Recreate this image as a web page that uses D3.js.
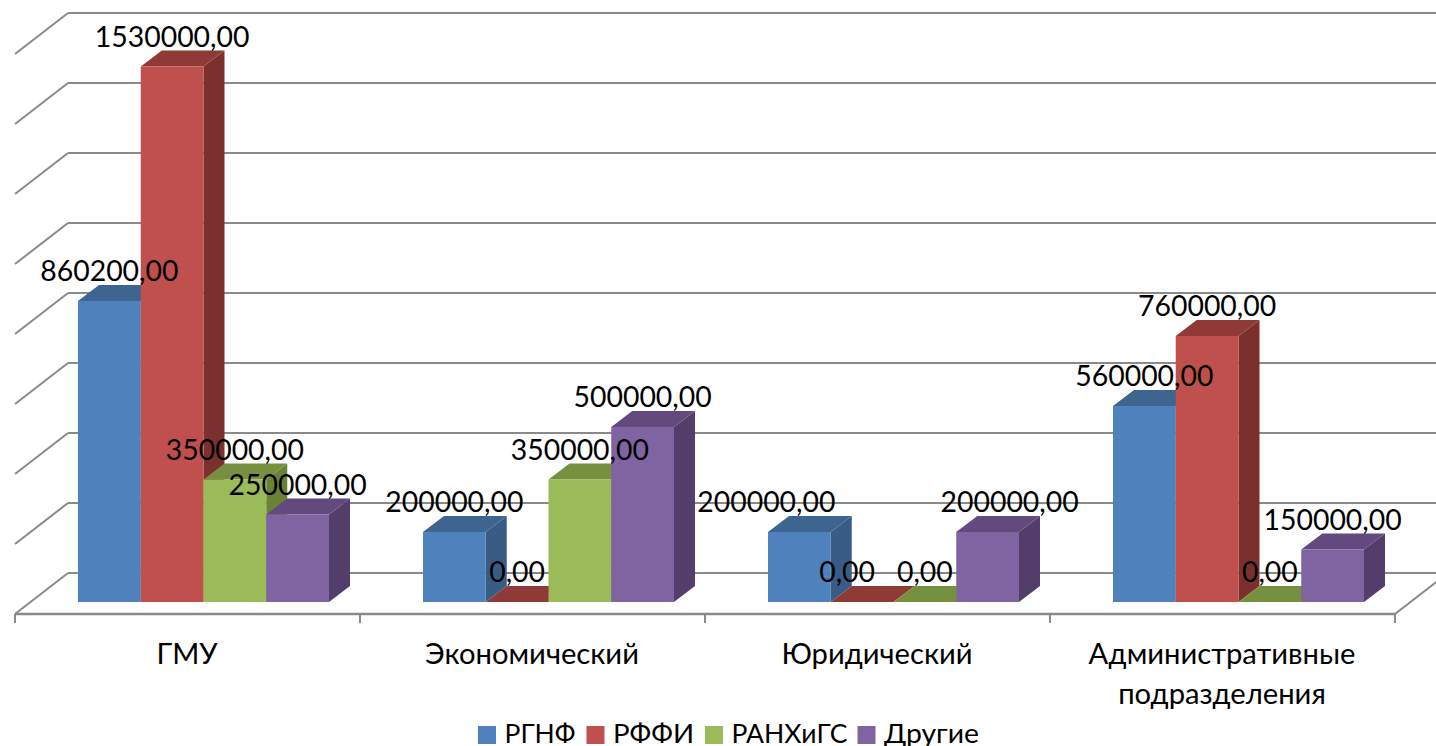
<!DOCTYPE html>
<html><head><meta charset="utf-8">
<script src="https://cdn.jsdelivr.net/npm/d3@7/dist/d3.min.js"></script>
<style>html,body{margin:0;padding:0;background:#fff;overflow:hidden}
svg{display:block}text{font-family:"Lato","Noto Sans",sans-serif;fill:#000}</style>
</head><body><svg id="c" width="1436" height="746"></svg>
<script>
const categories = ["ГМУ","Экономический","Юридический","Административные\nподразделения"];
const seriesNames = ["РГНФ","РФФИ","РАНХиГС","Другие"];
const rgnf  = [860200,200000,200000,560000];
const rffi  = [1530000,0,0,760000];
const ranh  = [350000,350000,0,0];
const other = [250000,500000,200000,150000];
const seriesValues = [rgnf,rffi,ranh,other];
const gridTicks = [0,200000,400000,600000,800000,1000000,1200000,1400000,1600000];
const frontColors = ["#4F81BD","#C0504D","#9BBB59","#8064A2"];
const topColors   = ["#3E6490","#8F3A37","#76903F","#624A7E"];
const sideColors  = ["#385C86","#7B302E","#6A8136","#533E6B"];
const legendX = [478,586.5,705,857.5];
const legendTextW = [71,81,116,95];
// horizontal nudges of the data labels that the original moved off their bars: [category][series]
const labelNudge = [[0,0,0,0],[0,0,0,0],[-33,-15,0,22],[0,0,0,0]];

const svg = d3.select("#c");
const gridColor = "#8a8a8a";
const x = d3.scaleBand().domain(categories).range([15,1395]);
const y = d3.scaleLinear().domain([0,1600000]).range([602,42]);
const inner = d3.scaleBand().domain(d3.range(4)).range([63,314]);
const barDx = 21, barDy = 16;      // bar depth
const wallDx = 53, wallDy = 41;    // side-wall depth
const floorFront = 614, gridShift = -29;

const gy = v => y(v) + gridShift;
svg.append("g").selectAll("line").data(gridTicks).join("line")
  .attr("x1",15+wallDx).attr("x2",1450)
  .attr("y1",gy).attr("y2",gy)
  .attr("stroke",gridColor).attr("stroke-width",2);
svg.append("g").selectAll("line").data(gridTicks).join("line")
  .attr("x1",15+wallDx).attr("x2",15)
  .attr("y1",gy).attr("y2",d=>gy(d)+wallDy)
  .attr("stroke",gridColor).attr("stroke-width",2);
svg.append("line").attr("x1",15).attr("x2",1395).attr("y1",floorFront).attr("y2",floorFront)
  .attr("stroke",gridColor).attr("stroke-width",2.5);
svg.append("line").attr("x1",1395).attr("x2",1395+wallDx).attr("y1",floorFront).attr("y2",floorFront-wallDy)
  .attr("stroke",gridColor).attr("stroke-width",2);
const tickXs = categories.map(c=>x(c)).concat([x(categories[3])+x.bandwidth()]);
svg.append("g").selectAll("line").data(tickXs).join("line")
  .attr("x1",d=>d).attr("x2",d=>d).attr("y1",floorFront).attr("y2",floorFront+9)
  .attr("stroke",gridColor).attr("stroke-width",2);

const bars = svg.append("g");
categories.forEach((c,ci)=>{
  seriesValues.forEach((vals,si)=>{
    const v = vals[ci];
    const x0 = x(c)+inner(si), w = inner.bandwidth();
    const x1 = x0+w, yt = y(v), yb = y(0);
    bars.append("polygon").attr("fill",sideColors[si])
      .attr("points",[[x1,yt],[x1+barDx,yt-barDy],[x1+barDx,yb-barDy],[x1,yb]].join(" "));
    bars.append("polygon").attr("fill",topColors[si])
      .attr("points",[[x0,yt],[x0+barDx,yt-barDy],[x1+barDx,yt-barDy],[x1,yt]].join(" "));
    if (v>0) bars.append("rect").attr("fill",frontColors[si])
      .attr("x",x0).attr("y",yt).attr("width",w).attr("height",yb-yt);
  });
});
const fmt = v => v.toFixed(2).replace(".",",");
categories.forEach((c,ci)=>{
  seriesValues.forEach((vals,si)=>{
    const v = vals[ci];
    svg.append("text").attr("x",x(c)+inner(si)+inner.bandwidth()/2+labelNudge[ci][si]).attr("y",y(v)-20)
      .attr("text-anchor","middle").attr("font-size",28.4).text(fmt(v));
  });
});
categories.forEach(c=>{
  c.split("\n").forEach((line,i)=>{
    svg.append("text").attr("x",x(c)+x.bandwidth()/2-0.5).attr("y",664+i*40)
      .attr("text-anchor","middle").attr("font-size",29.2).text(line);
  });
});
seriesNames.forEach((n,i)=>{
  svg.append("rect").attr("x",legendX[i]).attr("y",726).attr("width",18).attr("height",18).attr("fill",frontColors[i]);
  svg.append("text").attr("x",legendX[i]+26.5).attr("y",743).attr("font-size",27.6)
    .attr("textLength",legendTextW[i]).attr("lengthAdjust","spacingAndGlyphs").text(n);
});
</script></body></html>
